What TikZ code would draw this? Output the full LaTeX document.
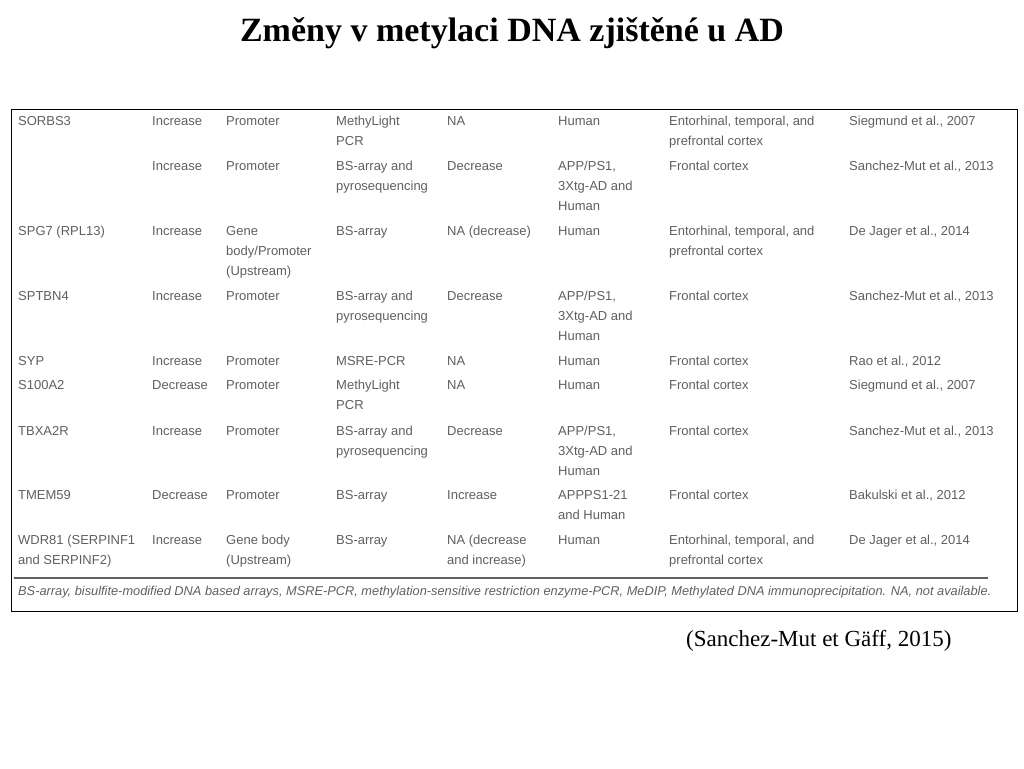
\documentclass[tikz,border=0pt]{standalone}
\usepackage{fontspec}
\setmainfont{Liberation Serif}
\newfontfamily\cellfont{Liberation Sans}
\usetikzlibrary{positioning}
\definecolor{celltext}{RGB}{95,95,95}
\tikzset{
  cell/.style={anchor=north west,inner sep=0pt,align=left,text=celltext,
    font=\cellfont\fontsize{13}{20}\selectfont},
}
% one table row: top y, then the eight columns
\newcommand\tabrow[9]{%
  \node[cell] at (18,#1)  {#2};
  \node[cell] at (152,#1) {#3};
  \node[cell] at (226,#1) {#4};
  \node[cell] at (336,#1) {#5};
  \node[cell] at (447,#1) {#6};
  \node[cell] at (558,#1) {#7};
  \node[cell] at (669,#1) {#8};
  \node[cell] at (849,#1) {#9};}
\begin{document}
\begin{tikzpicture}[x=1pt,y=-1pt]
  \useasboundingbox (0,0) rectangle (1024,768);
  \node (title) [font=\bfseries\fontsize{34}{38}\selectfont] at (512,33) {Změny v metylaci DNA zjištěné u AD};
  \draw[black,line width=1pt] (11,109) rectangle (1017,611);
  \tabrow{116}{SORBS3}{Increase}{Promoter}{MethyLight\\PCR}{NA}{Human}{Entorhinal, temporal, and\\prefrontal cortex}{Siegmund et al., 2007}
  \tabrow{161}{}{Increase}{Promoter}{BS-array and\\pyrosequencing}{Decrease}{APP/PS1,\\3Xtg-AD and\\Human}{Frontal cortex}{Sanchez-Mut et al., 2013}
  \tabrow{226}{SPG7 (RPL13)}{Increase}{Gene\\body/Promoter\\(Upstream)}{BS-array}{NA (decrease)}{Human}{Entorhinal, temporal, and\\prefrontal cortex}{De Jager et al., 2014}
  \tabrow{291}{SPTBN4}{Increase}{Promoter}{BS-array and\\pyrosequencing}{Decrease}{APP/PS1,\\3Xtg-AD and\\Human}{Frontal cortex}{Sanchez-Mut et al., 2013}
  \tabrow{356}{SYP}{Increase}{Promoter}{MSRE-PCR}{NA}{Human}{Frontal cortex}{Rao et al., 2012}
  \tabrow{380}{S100A2}{Decrease}{Promoter}{MethyLight\\PCR}{NA}{Human}{Frontal cortex}{Siegmund et al., 2007}
  \tabrow{426}{TBXA2R}{Increase}{Promoter}{BS-array and\\pyrosequencing}{Decrease}{APP/PS1,\\3Xtg-AD and\\Human}{Frontal cortex}{Sanchez-Mut et al., 2013}
  \tabrow{490}{TMEM59}{Decrease}{Promoter}{BS-array}{Increase}{APPPS1-21\\and Human}{Frontal cortex}{Bakulski et al., 2012}
  \tabrow{535}{WDR81 (SERPINF1\\and SERPINF2)}{Increase}{Gene body\\(Upstream)}{BS-array}{NA (decrease\\and increase)}{Human}{Entorhinal, temporal, and\\prefrontal cortex}{De Jager et al., 2014}
  \draw[celltext,line width=1.2pt] (14,578) -- (988,578);
  \node (note) [cell,font=\cellfont\itshape\fontsize{12.8}{15}\selectfont] at (18,586) {BS-array, bisulfite-modified DNA based arrays, MSRE-PCR, methylation-sensitive restriction enzyme-PCR, MeDIP, Methylated DNA immunoprecipitation. NA, not available.};
  \node (source) [font=\fontsize{23}{26}\selectfont,anchor=east] at (955,641) {(Sanchez-Mut et Gäff, 2015)};
\end{tikzpicture}
\end{document}
